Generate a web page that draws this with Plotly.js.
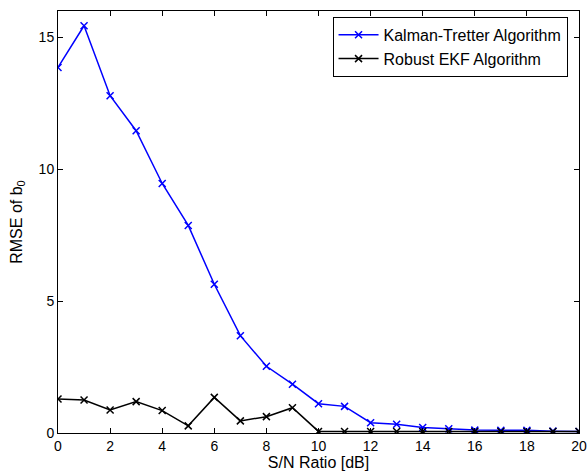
<!DOCTYPE html>
<html>
<head>
<meta charset="utf-8">
<script src="https://cdn.plot.ly/plotly-3.0.1.min.js"></script>
<style>html,body{margin:0;padding:0;background:#fff;}#chart{width:588px;height:471px;}</style>
</head>
<body>
<div id="chart"></div>
<script>
const snr = [0,1,2,3,4,5,6,7,8,9,10,11,12,13,14,15,16,17,18,19,20];
const kalmanTretter = [13.86,15.44,12.79,11.46,9.46,7.87,5.64,3.69,2.53,1.85,1.11,1.01,0.39,0.33,0.21,0.16,0.11,0.10,0.10,0.07,0.06];
const robustEKF = [1.29,1.25,0.87,1.19,0.85,0.27,1.35,0.46,0.62,0.96,0.06,0.06,0.06,0.06,0.06,0.06,0.06,0.06,0.06,0.06,0.06];
const seriesNames = ["Kalman-Tretter Algorithm","Robust EKF Algorithm"];
const xTicks = [0,2,4,6,8,10,12,14,16,18,20];
const yTicks = [0,5,10,15];

const font = {family:'"Liberation Sans", Arial, sans-serif', color:'#000'};
const traces = [
  {x:snr, y:kalmanTretter, name:seriesNames[0], type:'scatter', mode:'lines+markers',
   line:{color:'#0000ff', width:1.5}, marker:{symbol:'x-thin-open', size:7, line:{color:'#0000ff', width:1.5}, color:'#0000ff'}},
  {x:snr, y:robustEKF, name:seriesNames[1], type:'scatter', mode:'lines+markers',
   line:{color:'#000000', width:1.5}, marker:{symbol:'x-thin-open', size:7, line:{color:'#000000', width:1.5}, color:'#000000'}}
];
const axisCommon = {showline:true, mirror:'ticks', linecolor:'#000', linewidth:1, ticks:'inside', ticklen:5, tickcolor:'#000', showgrid:false, zeroline:false, tickfont:Object.assign({size:14}, font)};
const layout = {
  width:588, height:471,
  margin:{l:58, r:9, t:11, b:38},
  paper_bgcolor:'#fff', plot_bgcolor:'#fff',
  font:font,
  showlegend:true,
  legend:{x:0.978, xanchor:'right', y:0.986, yanchor:'top', bordercolor:'#000', borderwidth:1, bgcolor:'#fff', font:Object.assign({size:16}, font), itemwidth:40, tracegroupgap:0},
  xaxis:Object.assign({}, axisCommon, {range:[0,20], tickvals:xTicks, ticktext:xTicks.map(String),
    title:{text:'S/N Ratio [dB]', font:Object.assign({size:16}, font), standoff:3}}),
  yaxis:Object.assign({}, axisCommon, {range:[0,16], tickvals:yTicks, ticktext:yTicks.map(String),
    title:{text:'RMSE of b<sub>0</sub>', font:Object.assign({size:16}, font), standoff:12}})
};
Plotly.newPlot('chart', traces, layout, {displayModeBar:false, staticPlot:true});
</script>
</body>
</html>
